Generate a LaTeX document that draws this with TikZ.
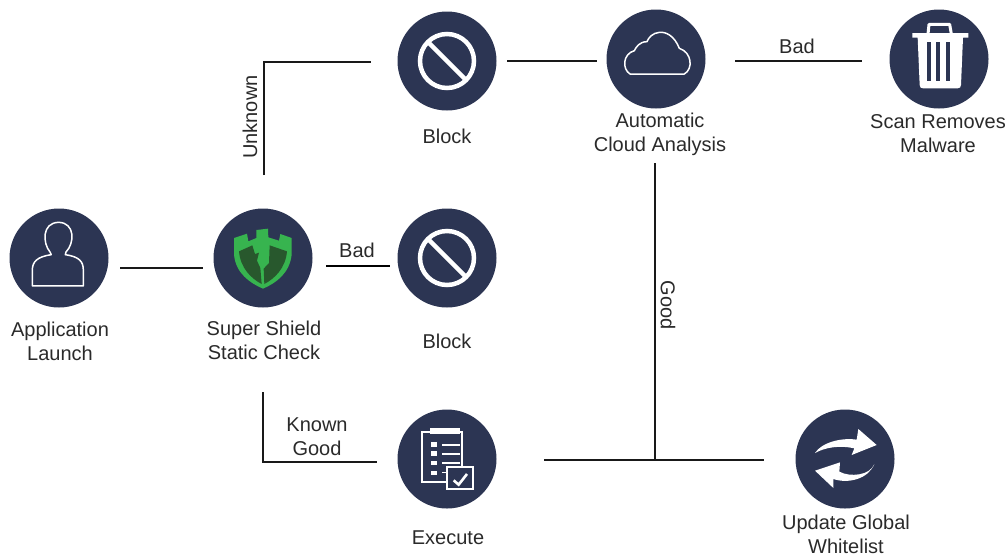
\documentclass[tikz,border=0pt]{standalone}
\usepackage{fontspec}
\usetikzlibrary{calc}
\setmainfont{Liberation Sans}
\definecolor{navy}{HTML}{2C3553}
\definecolor{shieldg}{HTML}{37B44F}
\definecolor{shieldd}{HTML}{28582D}
\definecolor{txt}{HTML}{2A2A2A}
\tikzset{
  disc/.style={circle,fill=navy,minimum size=99pt,inner sep=0pt},
  lbl/.style={text=txt,align=center,font=\fontsize{20}{24}\selectfont,inner sep=0pt},
  conn/.style={draw=black!90,line width=1.6pt},
  thickconn/.style={draw=black,line width=2.8pt},
  iconline/.style={draw=white,line width=1.5pt,line join=round},
  zoomed/.style={x=0.3333pt,y=-0.3333pt}
}
\begin{document}
\begin{tikzpicture}[x=1pt,y=-1pt]
\useasboundingbox (0,0) rectangle (1008,558);
% discs
\node[disc] (launch) at (59,258) {};
\node[disc] (shield) at (263,258) {};
\node[disc] (blocka) at (447,61) {};
\node[disc] (blockb) at (447,258) {};
\node[disc] (cloud) at (656,59) {};
\node[disc] (trash) at (939,59) {};
\node[disc] (execute) at (447,459) {};
\node[disc] (update) at (845,459) {};
% labels
\node[lbl] (tlaunch) at (60,341) {Application\\Launch};
\node[lbl] (tshield) at (264,340) {Super Shield\\Static Check};
\node[lbl] (tblocka) at (447,136) {Block};
\node[lbl] (tblockb) at (447,341) {Block};
\node[lbl] (tcloud) at (660,134) {Automatic\\Cloud Analysis};
\node[lbl] (ttrash) at (938,134) {Scan Removes\\Malware};
\node[lbl] (texec) at (448,538) {Execute};
\node[lbl] (tupdate) at (846,534.5) {Update Global\\Whitelist};
\node[lbl] (tbada) at (357,250) {Bad};
\node[lbl] (tbadb) at (797,46) {Bad};
\node[lbl,rotate=90] (tunk) at (250,117) {Unknown};
\node[lbl,rotate=-90] (tgood) at (668,305) {Good};
\node[lbl] (tknown) at (317,437) {Known\\Good};
% connector ends
\coordinate (c1) at (120,268); \coordinate (c2) at (203,268);
\coordinate (c3) at (326,266); \coordinate (c4) at (390,266);
\coordinate (c5) at (264,175); \coordinate (c6) at (264,62); \coordinate (c7) at (371,62);
\coordinate (c8) at (507,61); \coordinate (c9) at (597,61);
\coordinate (c10) at (735,61); \coordinate (c11) at (862,61);
\coordinate (c12) at (263,392); \coordinate (c13) at (263,462); \coordinate (c14) at (377,462);
\coordinate (c15) at (544,460); \coordinate (c16) at (764,460);
\coordinate (c17) at (655,163); \coordinate (c18) at (655,460);
\draw[conn] (c1) -- (c2);
\draw[thickconn] (c3) -- (c4);
\draw[conn,line width=2pt] (c5) -- (c6) -- (c7);
\draw[conn] (c8) -- (c9);
\draw[conn] (c10) -- (c11);
\draw[conn] (c12) -- (c13) -- (c14);
\draw[conn] (c15) -- (c16);
\draw[conn] (c17) -- (c18);
% person
\begin{scope}[shift={(0,190)},zoomed]
\draw[iconline] (150,186) .. controls (128,160) and (125,98) .. (176,97)
  .. controls (226,98) and (224,160) .. (198,186) -- (196,194)
  .. controls (238,200) and (250,215) .. (250,240) -- (250,288) -- (97,288) -- (97,240)
  .. controls (97,215) and (112,200) .. (154,194) -- cycle;
\end{scope}
% shield
\begin{scope}[shift={(223,218)},zoomed]
\fill[shieldg] (33,60) -- (72,47) -- (76,70) -- (100,60) -- (100,36) -- (135,32) -- (136,58) -- (168,68) -- (172,48) -- (206,60) -- (206,110)
  .. controls (200,165) and (160,195) .. (120,212) .. controls (80,195) and (38,165) .. (33,110) -- cycle;
\fill[shieldd] (48,100) -- (88,82) -- (96,108) -- (108,104) -- (102,128) -- (112,150) -- (116,198) .. controls (85,182) and (52,150) .. (48,100) -- cycle;
\fill[shieldd] (140,82) -- (192,100) .. controls (188,150) and (155,182) .. (124,198) -- (122,152) -- (138,135) -- cycle;
\end{scope}
% block icons
\foreach \bn in {blocka,blockb}{
  \draw[white,line width=4.5pt] (\bn) circle[radius=27pt];
  \draw[white,line width=4.5pt] ($(\bn)+(-19,-19)$) -- ($(\bn)+(19,19)$);
}
% cloud
\begin{scope}[shift={(616,19)},zoomed]
\draw[iconline] (42,165) -- (205,165) .. controls (232,150) and (228,100) .. (190,88)
  .. controls (175,50) and (150,38) .. (130,40) .. controls (110,42) and (98,55) .. (93,68)
  .. controls (70,68) and (60,85) .. (55,95) .. controls (20,105) and (18,150) .. (42,165) -- cycle;
\end{scope}
% trash
\begin{scope}[shift={(899,19)},zoomed]
\draw[white,line width=3pt,line join=round] (87,45) -- (90,16) -- (152,16) -- (157,45);
\fill[white] (40,42) -- (208,42) -- (208,56) -- (192,56) -- (186,198) .. controls (186,205) and (182,208) .. (176,208) -- (72,208) .. controls (66,208) and (62,205) .. (62,198) -- (56,56) -- (40,56) -- cycle;
\fill[navy] (84,70) rectangle (96,186);
\fill[navy] (112,70) rectangle (124,186);
\fill[navy] (140,70) rectangle (152,186);
\end{scope}
% clipboard
\begin{scope}[shift={(407,419)},zoomed]
\draw[white,line width=2pt] (46,40) rectangle (164,190);
\fill[white] (70,28) rectangle (160,46);
\foreach \yy in {77,104,132,162}{\fill[white] (73,\yy-7) rectangle (91,\yy+7);}
\foreach \yy in {78,105,132}{\draw[white,line width=1.3pt] (105,\yy) -- (158,\yy);}
\draw[white,line width=1.3pt] (105,160) -- (125,160);
\draw[fill=navy,draw=white,line width=2pt] (120,145) rectangle (198,210);
\draw[white,line width=2.6pt] (140,184) -- (155,197) -- (180,165);
\end{scope}
% sync arrows
\begin{scope}[shift={(805,419)},zoomed]
\fill[white] (30,102) .. controls (50,70) and (110,55) .. (155,62) -- (160,30) -- (215,78) -- (140,108) -- (148,88) .. controls (105,78) and (60,85) .. (30,102) -- cycle;
\fill[white] (208,135) .. controls (195,170) and (135,175) .. (103,158) -- (105,130) -- (30,155) -- (85,207) -- (85,180) .. controls (130,195) and (190,180) .. (208,135) -- cycle;
\end{scope}
\end{tikzpicture}
\end{document}
